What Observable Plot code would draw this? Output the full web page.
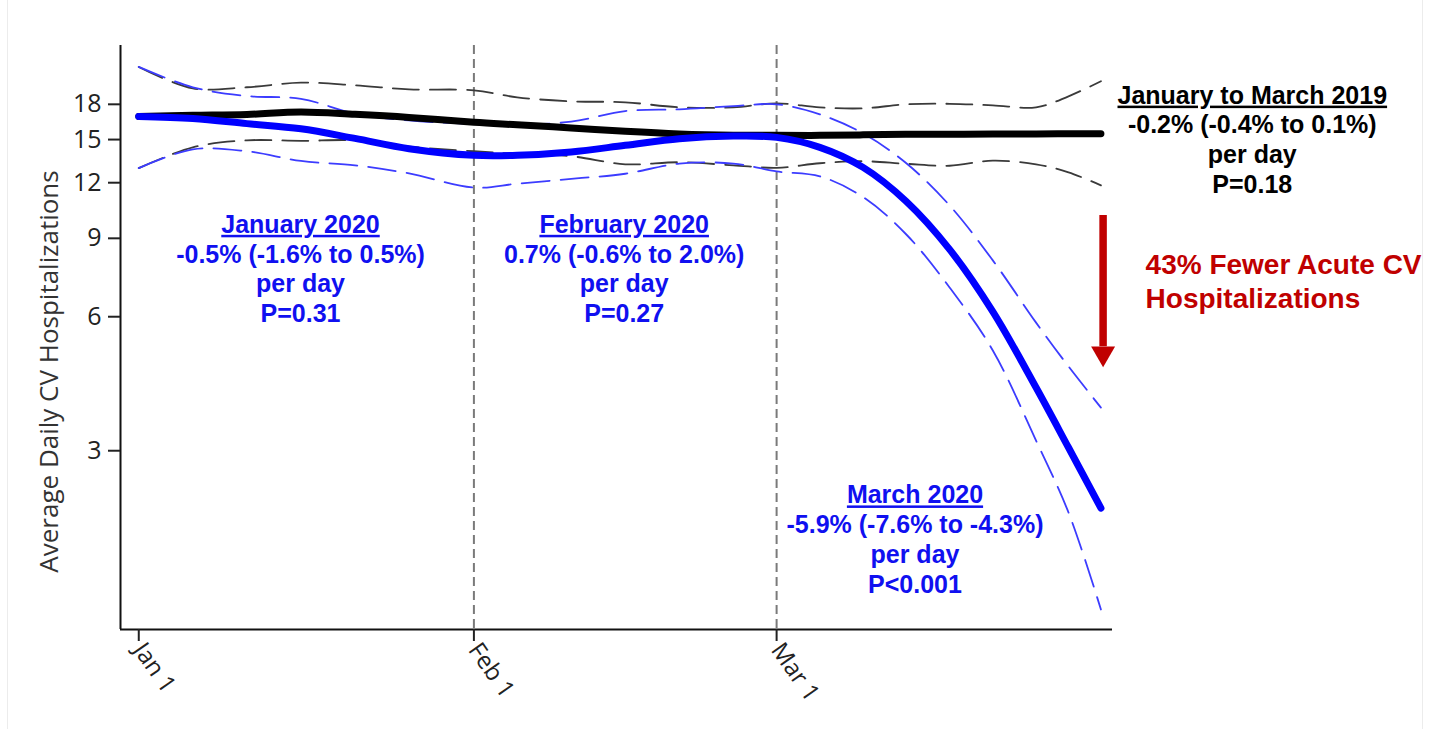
<!DOCTYPE html>
<html>
<head>
<meta charset="utf-8">
<script src="https://cdn.jsdelivr.net/npm/d3@7"></script>
<script src="https://cdn.jsdelivr.net/npm/@observablehq/plot@0.6"></script>
<style>
  html, body { margin: 0; padding: 0; background: #fff; }
  #wrap { position: relative; width: 1431px; height: 730px; }
  #border { position: absolute; left: 7px; top: 0; width: 1414px; height: 729px;
            border-left: 1px solid #ececec; border-right: 1px solid #ececec; pointer-events: none; }
</style>
</head>
<body>
<div id="wrap"><div id="border"></div></div>
<script>
// ---- data (day of year, 0 = Jan 1) ----
const days     = [0, 5, 10, 15, 20, 25, 31, 35, 40, 45, 50, 55, 59, 63, 67, 71, 75, 79, 83, 86, 89];
const ref2019   = [16.91, 17.00, 17.08, 17.30, 17.09, 16.82, 16.40, 16.19, 15.93, 15.65, 15.44, 15.34, 15.33, 15.33, 15.37, 15.41, 15.41, 15.44, 15.44, 15.46, 15.46];
const ref2019Hi = [21.84, 19.55, 19.66, 20.14, 19.86, 19.45, 19.35, 18.66, 18.28, 18.19, 17.72, 17.72, 18.09, 17.72, 17.63, 18.00, 18.05, 17.91, 17.72, 18.76, 20.28];
const ref2019Lo = [12.94, 14.41, 14.94, 14.90, 14.94, 14.46, 14.12, 13.93, 13.76, 13.20, 13.34, 13.13, 12.96, 13.27, 13.41, 13.23, 13.10, 13.45, 13.20, 12.66, 11.84];
const y2020     = [16.91, 16.73, 16.29, 15.86, 15.09, 14.31, 13.83, 13.83, 14.07, 14.56, 15.07, 15.27, 15.17, 14.41, 12.99, 10.89, 8.50, 6.16, 4.16, 3.05, 2.23];
const y2020Hi   = [21.84, 19.66, 18.79, 18.52, 17.16, 16.56, 16.27, 16.20, 16.46, 17.38, 17.54, 17.83, 18.00, 17.09, 15.49, 13.27, 10.67, 8.03, 5.82, 4.64, 3.75];
const y2020Lo   = [12.94, 14.26, 14.12, 13.43, 13.13, 12.59, 11.70, 11.94, 12.24, 12.57, 13.25, 13.25, 12.72, 12.40, 11.14, 9.18, 6.98, 5.04, 3.16, 2.18, 1.32];

const xTickDays   = [0, 31, 59];
const xTickLabels = ["Jan 1", "Feb 1", "Mar 1"];
const monthLines  = [31, 59];
const yTicks      = [3, 6, 9, 12, 15, 18];
const xDomain     = [-1.69, 90.07];
const yDomain     = [1.19, 24.4];

// annotation blocks
const blockTitles = ["January 2020", "February 2020", "March 2020", "January to March 2019"];
const blockStats  = ["-0.5% (-1.6% to 0.5%)", "0.7% (-0.6% to 2.0%)", "-5.9% (-7.6% to -4.3%)", "-0.2% (-0.4% to 0.1%)"];
const blockUnit   = ["per day", "per day", "per day", "per day"];
const blockP      = ["P=0.31", "P=0.27", "P<0.001", "P=0.18"];
const blockX      = [14.96, 44.9, 71.8, 103.0];
const blockY      = [10.33, 10.33, 2.548, 20.15];
const blockColor  = ["#1010f0", "#1010f0", "#1010f0", "#000000"];

const noteText  = ["43% Fewer Acute CV\nHospitalizations"];
const noteX     = [93.13];
const noteY     = [8.49];
const arrowX    = [89.2];
const arrowTop  = [10.13];
const arrowBase = [5.14];
const arrowHead = [4.96];

// ---- tables ----
const mk = (vals, name) => days.map((d, i) => ({day: d, v: vals[i], s: name}));
const mainRows = [...mk(ref2019, "2019"), ...mk(y2020, "2020")];
const ciBlack = [...mk(ref2019Hi, "hi"), ...mk(ref2019Lo, "lo")];
const ciBlue  = [...mk(y2020Hi, "hi"), ...mk(y2020Lo, "lo")];
const blocks = blockTitles.map((t, i) => ({
  text: [t, blockStats[i], blockUnit[i], blockP[i]].join("\n"),
  x: blockX[i], y: blockY[i], c: blockColor[i]
}));
const notes = noteText.map((t, i) => ({text: t, x: noteX[i], y: noteY[i]}));
const arrows = arrowX.map((x, i) => ({x, top: arrowTop[i], base: arrowBase[i], head: arrowHead[i]}));

const annFont = "'Liberation Sans', Arial, sans-serif";

const chart = Plot.plot({
  width: 1431,
  height: 730,
  marginLeft: 120,
  marginRight: 319,
  marginTop: 45,
  marginBottom: 101,
  style: {fontFamily: "'Open Sans', sans-serif", fontSize: "25px", color: "#222", background: "transparent"},
  x: {domain: xDomain, axis: null},
  y: {type: "log", domain: yDomain, axis: null},
  marks: [
    Plot.ruleX(monthLines, {stroke: "#7a7a7a", strokeWidth: 2, strokeDasharray: "9,5"}),
    Plot.line(ciBlack, {x: "day", y: "v", z: "s", stroke: "#3a3a3a", strokeWidth: 1.8, strokeDasharray: "26,11", curve: "catmull-rom"}),
    Plot.line(ciBlue, {x: "day", y: "v", z: "s", stroke: "#3c3cff", strokeWidth: 1.8, strokeDasharray: "28,11", curve: "catmull-rom"}),
    Plot.line(mainRows, {x: "day", y: "v", z: "s", stroke: d => d.s === "2019" ? "#000" : "#0000ff", strokeWidth: 7, curve: "catmull-rom"}),
    Plot.ruleX([xDomain[0]], {stroke: "#111", strokeWidth: 2}),
    Plot.ruleY([yDomain[0]], {stroke: "#111", strokeWidth: 2}),
    Plot.axisY({ticks: yTicks, tickFormat: d => String(d), tickSize: 12, tickPadding: 7, fontSize: 25, strokeWidth: 2, label: null, color: "#222"}),
    Plot.axisX({ticks: xTickDays, tickFormat: (d, i) => xTickLabels[xTickDays.indexOf(d)], tickSize: 12, tickPadding: 4, tickRotate: 55, fontSize: 24, strokeWidth: 2, label: null}),
    Plot.text(["Average Daily CV Hospitalizations"], {frameAnchor: "left", textAnchor: "middle", lineAnchor: "middle", rotate: -90, dx: -71, dy: 34, fontSize: 26, fill: "#333"}),
    Plot.text(blocks, {x: "x", y: "y", text: "text", fill: d => d.c, fontSize: 25, fontWeight: "bold", fontFamily: annFont, lineAnchor: "top", lineHeight: 1.19, textAnchor: "middle"}),
    Plot.text(notes, {x: "x", y: "y", text: "text", fill: "#c00000", fontSize: 28, fontWeight: "bold", fontFamily: annFont, lineAnchor: "top", lineHeight: 1.21, textAnchor: "start"}),
    Plot.ruleX(arrows, {x: "x", y1: "top", y2: "base", stroke: "#c00000", strokeWidth: 7.5}),
    Plot.dot(arrows, {x: "x", y: "head", symbol: "triangle", r: 8.9, rotate: 180, fill: "#c00000", stroke: "none"})
  ]
});

// underline block titles
d3.select(chart).selectAll("text").each(function() {
  const first = this.querySelector("tspan");
  if (first && blockTitles.includes(first.textContent)) {
    first.style.textDecoration = "underline";
  }
});

document.getElementById("wrap").appendChild(chart);
</script>
</body>
</html>
